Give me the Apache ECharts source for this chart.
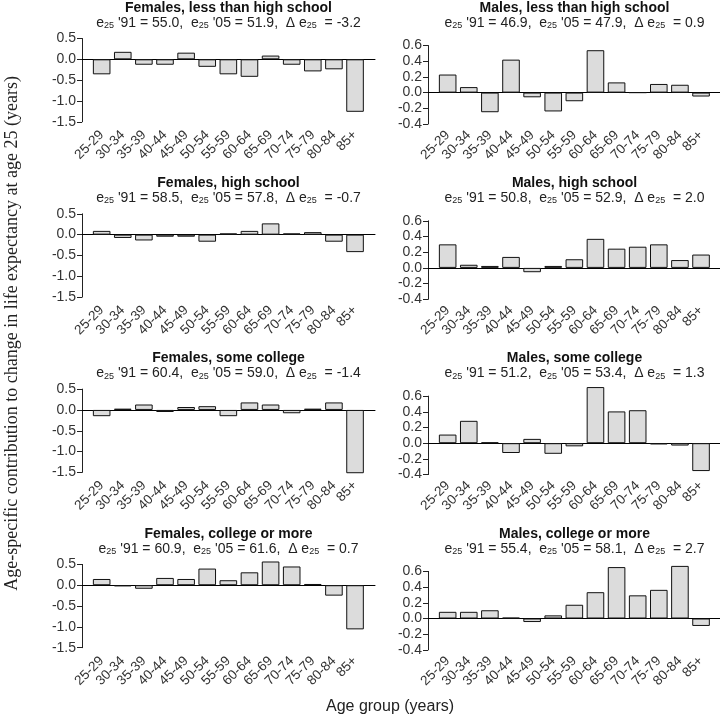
<!DOCTYPE html>
<html><head><meta charset="utf-8">
<script src="https://cdn.jsdelivr.net/npm/echarts@6/dist/echarts.min.js"></script>
<style>html,body{margin:0;padding:0;background:#fff}#c{width:720px;height:719px}</style>
</head><body><div id="c"></div>
<script>
// ---------------- data ----------------
const ageGroups = ["25-29","30-34","35-39","40-44","45-49","50-54","55-59","60-64","65-69","70-74","75-79","80-84","85+"];

const femalesLessHS   = [-0.36, 0.18, -0.13, -0.13, 0.16, -0.18, -0.36, -0.42, 0.09, -0.13, -0.29, -0.24, -1.26];
const malesLessHS     = [0.23, 0.07, -0.25, 0.42, -0.06, -0.24, -0.11, 0.54, 0.13, 0.00, 0.11, 0.10, -0.05];
const femalesHS       = [0.09, -0.08, -0.14, -0.05, -0.05, -0.17, 0.03, 0.09, 0.27, 0.03, 0.06, -0.17, -0.42];
const malesHS         = [0.30, 0.04, 0.025, 0.14, -0.055, 0.025, 0.11, 0.37, 0.245, 0.27, 0.30, 0.10, 0.17];
const femalesSomeCol  = [-0.15, 0.03, 0.13, -0.05, 0.07, 0.09, -0.15, 0.18, 0.13, -0.08, 0.03, 0.18, -1.52];
const malesSomeCol    = [0.11, 0.285, 0.01, -0.125, 0.055, -0.135, -0.04, 0.715, 0.405, 0.42, -0.015, -0.03, -0.355];
const femalesColPlus  = [0.15, -0.025, -0.085, 0.175, 0.15, 0.40, 0.12, 0.31, 0.57, 0.45, 0.03, -0.25, -1.06];
const malesColPlus    = [0.085, 0.085, 0.105, 0.01, -0.045, 0.04, 0.175, 0.335, 0.655, 0.295, 0.365, 0.67, -0.095];

const panelValues = [femalesLessHS, malesLessHS, femalesHS, malesHS, femalesSomeCol, malesSomeCol, femalesColPlus, malesColPlus];
const panelTitles = ["Females, less than high school", "Males, less than high school",
                     "Females, high school", "Males, high school",
                     "Females, some college", "Males, some college",
                     "Females, college or more", "Males, college or more"];
const e25in91 = [55.0, 46.9, 58.5, 50.8, 60.4, 51.2, 60.9, 55.4];
const e25in05 = [51.9, 47.9, 57.8, 52.9, 59.0, 53.4, 61.6, 58.1];
const deltaE25 = [-3.2, 0.9, -0.7, 2.0, -1.4, 1.3, 0.7, 2.7];

const femaleTicks = [-1.5, -1.0, -0.5, 0.0, 0.5];
const maleTicks   = [-0.4, -0.2, 0.0, 0.2, 0.4, 0.6];

const yTitle = "Age-specific contribution to change in life expectancy at age 25 (years)";
const xTitle = "Age group (years)";

// ---------------- layout ----------------
const colAxisX  = [82, 428];
const plotW     = 293;
const bandInset = 9.1;
const bandW     = 274.5;
const rowPitch  = 175.3;
const tickTop   = [38.5, 45.5];
const tickH     = [83.3, 78.5];
const labelMargin = [11, 9];

const FONT = "'Liberation Sans', Arial, sans-serif";
const fmt = v => (Math.round(v * 10) / 10).toFixed(1);

const grid = [], xAxis = [], yAxis = [], series = [], title = [];
panelValues.forEach((vals, i) => {
  const r = Math.floor(i / 2), c = i % 2;
  const ticks = c === 0 ? femaleTicks : maleTicks;
  const tmin = ticks[0], tmax = ticks[ticks.length - 1], step = ticks[1] - ticks[0];
  const top = tickTop[c] + r * rowPitch;
  // grid A: axis frame and zero line
  const ga = grid.length;
  grid.push({left: colAxisX[c], top: top, width: plotW, height: tickH[c], containLabel: false});
  xAxis.push({type: 'value', gridIndex: ga, min: 0, max: 1,
    axisLine: {show: true, onZero: true, lineStyle: {color: '#000', width: 1}},
    axisTick: {show: false}, axisLabel: {show: false}, splitLine: {show: false}});
  yAxis.push({type: 'value', gridIndex: ga, min: tmin, max: tmax, interval: step,
    axisLine: {show: true, lineStyle: {color: '#222', width: 1}},
    axisTick: {show: true, length: 5, lineStyle: {color: '#222'}},
    axisLabel: {show: true, formatter: fmt, color: '#333', fontSize: 14, fontFamily: FONT, margin: 6},
    splitLine: {show: false}});
  // grid B: bars
  const gb = grid.length;
  grid.push({left: colAxisX[c] + bandInset, top: top, width: bandW, height: tickH[c], containLabel: false});
  xAxis.push({type: 'category', gridIndex: gb, data: ageGroups,
    axisLine: {show: false}, axisTick: {show: false},
    axisLabel: {show: true, interval: 0, rotate: 45, color: '#333', fontSize: 13.5, fontFamily: FONT, margin: labelMargin[c]}});
  yAxis.push({type: 'value', gridIndex: gb, min: tmin, max: tmax, show: false, splitLine: {show: false}});
  series.push({type: 'bar', xAxisIndex: gb, yAxisIndex: gb, data: vals, clip: false,
    barCategoryGap: '16.67%',
    itemStyle: {color: '#dcdcdc', borderColor: '#111', borderWidth: 1}});
  title.push({
    text: panelTitles[i],
    subtext: 'e{s|25} \'91 = ' + e25in91[i].toFixed(1) + ',  e{s|25} \'05 = ' + e25in05[i].toFixed(1) +
             ',  \u0394 e{s|25}  = ' + deltaE25[i].toFixed(1),
    left: colAxisX[c] + plotW / 2, top: r * rowPitch + 1, textAlign: 'center', itemGap: 1, padding: 0,
    textStyle: {fontSize: 14, fontWeight: 'bold', color: '#111', fontFamily: FONT},
    subtextStyle: {fontSize: 14, color: '#222', fontFamily: FONT,
      rich: {s: {fontSize: 9, verticalAlign: 'bottom', color: '#222', fontFamily: FONT}}}
  });
});
title.push({text: xTitle, left: 390, top: 699, textAlign: 'center', padding: 0,
  textStyle: {fontSize: 16, fontWeight: 'normal', color: '#222', fontFamily: FONT}});

const chart = echarts.init(document.getElementById('c'), null, {renderer: 'canvas'});
chart.setOption({
  animation: false,
  backgroundColor: '#fff',
  title, grid, xAxis, yAxis, series,
  graphic: [{type: 'text', left: 3, top: 76, rotation: Math.PI / 2,
    style: {text: yTitle, font: "18px 'Liberation Serif', 'Times New Roman', serif", fill: '#222'}}]
});
</script></body></html>
